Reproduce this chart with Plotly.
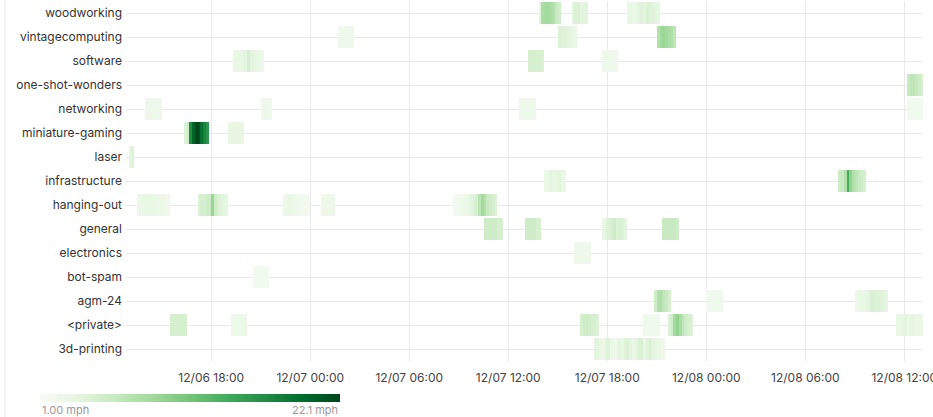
import pandas as pd
import plotly.graph_objects as go
import plotly.colors as pc

# ---- data ----
categories = ["3d-printing", "<private>", "agm-24", "bot-spam", "electronics", "general",
              "hanging-out", "infrastructure", "laser", "miniature-gaming", "networking",
              "one-shot-wonders", "software", "vintagecomputing", "woodworking"]

range_start = "2024-12-06 12:50"
range_end = "2024-12-08 13:10"
bin_minutes = 10

# (start of first 10-min bin, values in mph per bin)
woodworking = [
    ("2024-12-07 13:50", [3.7, 8.3, 8.8, 8.8, 8.3, 7.8, 6.2, 5.6]),
    ("2024-12-07 15:50", [3.7, 4.4, 4.4, 3.7, 3.7, 3.7]),
    ("2024-12-07 19:10", [2.8, 3, 2.8, 3, 3.7, 4.1, 3.7, 4.4, 4.4, 4.1, 3.7, 3.4]),
]
vintagecomputing = [
    ("2024-12-07 01:40", [2.2, 2.2, 2.2, 2.2, 2.2, 2.2]),
    ("2024-12-07 15:00", [4.4, 4.4, 4.1, 3.7, 3.3, 3, 3]),
    ("2024-12-07 21:00", [7.8, 8.8, 9.3, 8.8, 8.3, 7.8, 6.8]),
]
software = [
    ("2024-12-06 19:20", [2.8, 3, 3, 3.3, 3.7, 5, 3.7, 3.3, 3, 2.8, 2.5]),
    ("2024-12-07 13:10", [5, 5, 5, 5, 5, 4.7]),
    ("2024-12-07 17:40", [2.2, 2.2, 2.2, 2.2, 2.2, 2.2]),
]
one_shot_wonders = [
    ("2024-12-08 12:10", [6.2, 6.8, 6.8, 6.2, 5.6, 5]),
]
networking = [
    ("2024-12-06 14:00", [2.4, 2.4, 2.4, 2.4, 2.4, 2.4]),
    ("2024-12-06 21:00", [2.3, 2.5, 2.3, 2.1]),
    ("2024-12-07 12:40", [2.4, 2.4, 2.4, 2.4, 2.4, 2.4]),
    ("2024-12-08 12:10", [1.9, 1.9, 1.9, 1.9, 1.9, 1.9]),
]
miniature_gaming = [
    ("2024-12-06 16:20", [4.4, 5.6, 17, 20, 22.1, 21.5, 19, 17.5, 16]),
    ("2024-12-06 19:00", [3.2, 3.2, 3.2, 3.2, 3.2, 3.2]),
]
laser = [
    ("2024-12-06 13:00", [3.7, 4.4]),
]
infrastructure = [
    ("2024-12-07 14:10", [2.8, 3, 3.7, 3, 3.3, 3.7, 3, 2.8]),
    ("2024-12-08 08:00", [5.6, 6.2, 7.8, 14, 9.8, 7.8, 6.8, 6.2, 5.6, 5]),
]
hanging_out = [
    ("2024-12-06 13:30", [2.5, 2.8, 2.8, 3, 3, 3, 2.8, 2.8, 2.5, 2.5, 2.3, 2.3]),
    ("2024-12-06 17:10", [4.4, 5, 5, 5.6, 5.6, 9.3, 5.6, 4.4, 4.1, 3.7, 3.4]),
    ("2024-12-06 22:20", [2.3, 2.8, 3, 2.8, 2.3, 2, 2, 1.8, 1.8, 1.8]),
    ("2024-12-07 00:40", [2.5, 2.5, 2.5, 2.5, 2.5]),
    ("2024-12-07 08:40", [1.8, 2, 2.1, 2.3, 2.8, 3, 3.7, 4.4, 5, 7.3, 8.8, 7.8, 6.2, 5.6, 5, 4.4]),
]
general = [
    ("2024-12-07 10:30", [5.6, 5.6, 5.6, 5.6, 5.6, 5, 5]),
    ("2024-12-07 13:00", [5.6, 5.6, 5.6, 5.6, 5, 5]),
    ("2024-12-07 17:40", [3, 3.7, 4.4, 5, 5.6, 4.4, 5, 4.4, 3.7]),
    ("2024-12-07 21:20", [6.2, 6.2, 6.2, 6.2, 6.2, 5.6]),
]
electronics = [
    ("2024-12-07 16:00", [2.3, 2.3, 2.3, 2.3, 2.3, 2.3]),
]
bot_spam = [
    ("2024-12-06 20:30", [1.9, 1.9, 1.9, 1.9, 1.9, 1.9]),
]
agm_24 = [
    ("2024-12-07 20:50", [5.6, 7.8, 8.3, 6.8, 6.2, 5]),
    ("2024-12-08 00:00", [2, 2, 2, 2, 2, 2]),
    ("2024-12-08 09:00", [2.5, 2.8, 3, 3, 3.3, 4.1, 4.7, 4.4, 4.4, 4.1, 3.7, 3.4]),
]
private = [
    ("2024-12-06 15:30", [5, 5, 5, 5, 5, 5]),
    ("2024-12-06 19:10", [2.6, 2.6, 2.6, 2.6, 2.6, 2.6]),
    ("2024-12-07 16:20", [5, 5.6, 5.6, 5.6, 5, 5, 4.4]),
    ("2024-12-07 20:10", [2.1, 2.1, 2.1, 2.1, 2.1, 2.1]),
    ("2024-12-07 21:40", [4.4, 5.6, 8.8, 9.8, 8.3, 6.8, 5.6, 5, 4.4]),
    ("2024-12-08 11:30", [3, 3, 3.3, 3.7, 3, 3.3, 3, 2.8, 2.8, 2.5]),
]
printing_3d = [
    ("2024-12-07 17:10", [3.7, 3.7, 3, 2.5, 3.7, 4.1, 3, 2.5, 2.8, 3.7, 3, 4.1, 4.4, 3.7,
                          2.8, 3.7, 4.7, 4.4, 3, 4.1, 4.7, 3.7, 3.3, 3, 2.8, 2.5]),
]

events_by_category = {
    "3d-printing": printing_3d, "<private>": private, "agm-24": agm_24,
    "bot-spam": bot_spam, "electronics": electronics, "general": general,
    "hanging-out": hanging_out, "infrastructure": infrastructure, "laser": laser,
    "miniature-gaming": miniature_gaming, "networking": networking,
    "one-shot-wonders": one_shot_wonders, "software": software,
    "vintagecomputing": vintagecomputing, "woodworking": woodworking,
}

zmin_label = "1.00 mph"
zmax_label = "22.1 mph"
zmin, zmax = 1.0, 22.1

# ---- build grid ----
bins = pd.date_range(range_start, range_end, freq=f"{bin_minutes}min", inclusive="left")
centers = bins + pd.Timedelta(minutes=bin_minutes / 2)
t0 = pd.Timestamp(range_start)
z = []
for cat in categories:
    row = [None] * len(bins)
    for start, vals in events_by_category[cat]:
        idx = int((pd.Timestamp(start) - t0) / pd.Timedelta(minutes=bin_minutes))
        for k, v in enumerate(vals):
            if 0 <= idx + k < len(row):
                row[idx + k] = v
    z.append(row)

W, H = 933, 417
ml, mr, mt, mb = 126, 10, 1, 56
pw = W - ml - mr
ph = H - mt - mb

def px_x(x):
    return (x - ml) / pw

def px_y(y):
    return (H - mb - y) / ph

fig = go.Figure(go.Heatmap(
    x=[c.strftime("%Y-%m-%d %H:%M:%S") for c in centers],
    y=categories,
    z=z,
    zmin=zmin, zmax=zmax,
    colorscale=pc.sequential.Greens,
    ygap=2,
    hoverongaps=False,
    colorbar=dict(
        orientation="h",
        lenmode="pixels", len=300,
        thickness=8,
        x=px_x(190), xanchor="center",
        y=px_y(398), yanchor="middle",
        xpad=0, ypad=0,
        outlinewidth=0,
        showticklabels=False, ticks="",
    ),
))

fig.update_layout(
    width=W, height=H,
    margin=dict(l=ml, r=mr, t=mt, b=mb, autoexpand=False),
    paper_bgcolor="white", plot_bgcolor="white",
    font=dict(family="Inter", size=12, color="#444"),
    xaxis=dict(
        type="date",
        range=["2024-12-06 12:50", "2024-12-08 13:08"],
        tick0="2024-12-06 00:00", dtick=6 * 3600 * 1000,
        tickformat="%m/%d %H:%M",
        ticklabeloverflow="allow",
        ticklabelstandoff=8,
        showgrid=True, gridcolor="#e9e9e9", gridwidth=1,
        zeroline=False, showline=False, ticks="",
        tickfont=dict(size=12, color="#444"),
    ),
    yaxis=dict(
        type="category",
        categoryorder="array", categoryarray=categories,
        showgrid=True, gridcolor="#e9e9e9", gridwidth=1,
        zeroline=False, showline=False, ticks="",
        ticklabelstandoff=3,
        tickfont=dict(size=12, color="#333"),
    ),
    annotations=[
        dict(text=zmin_label, xref="paper", yref="paper", x=px_x(40), y=px_y(410),
             xanchor="left", yanchor="middle", showarrow=False,
             font=dict(size=11, color="#999")),
        dict(text=zmax_label, xref="paper", yref="paper", x=px_x(340), y=px_y(410),
             xanchor="right", yanchor="middle", showarrow=False,
             font=dict(size=11, color="#999")),
    ],
    shapes=[
        dict(type="line", xref="paper", yref="paper", x0=px_x(5), x1=px_x(5),
             y0=px_y(417), y1=px_y(0), line=dict(color="#e6e6e6", width=1)),
    ],
)

fig.write_html("out.html",
               config={"displayModeBar": False},
               post_script="document.body.style.margin='0';document.body.style.overflow='hidden';")
